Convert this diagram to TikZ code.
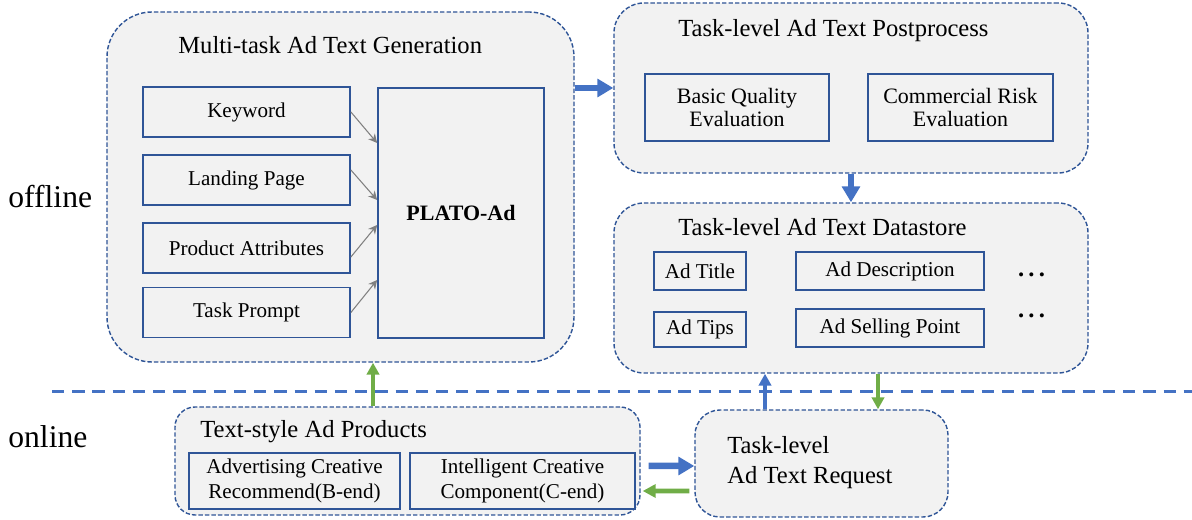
\documentclass[tikz,border=0pt]{standalone}
\usepackage{fontspec}
\setmainfont{Liberation Serif}
\usetikzlibrary{arrows.meta}

\definecolor{boxgray}{HTML}{F2F2F2}
\definecolor{darkblue}{HTML}{2F5597}
\definecolor{arrowblue}{HTML}{4472C4}
\definecolor{arrowgreen}{HTML}{70AD47}

\begin{document}
\begin{tikzpicture}[
		groupbox/.style={draw=darkblue, dash pattern=on 2.5pt off 1.2pt, line width=0.8pt, fill=boxgray},
		itembox/.style={draw=darkblue, line width=1pt, fill=boxgray, font=\fontsize{12}{14}\selectfont, align=center},
		boxtitle/.style={font=\fontsize{14}{17}\selectfont, anchor=west, inner sep=0pt},
		sidelabel/.style={font=\fontsize{18}{20}\selectfont, anchor=west, inner sep=0pt},
		feedarrow/.style={draw=gray, line width=0.6pt, -{Stealth[length=5pt,width=5pt]}},
		bigarrow/.style={draw=arrowblue, line width=3.7pt, -{Triangle[length=9pt,width=10pt]}},
		thinarrow/.style={draw=#1, line width=2.4pt, -{Triangle[length=6.8pt,width=7pt]}}
	]
		
		% Fix the page size
		\useasboundingbox (0,0) rectangle (23.84,10.4);
		
		% The offline / online split
		\draw[arrowblue, line width=1.7pt, dash pattern=on 7pt off 4.5pt] (1.04,2.56) -- (23.84,2.56);
		\node[sidelabel] (offline) at (0.16,6.46) {offline};
		\node[sidelabel] (online) at (0.16,1.66) {online};
		
		% Multi-task generation block
		\node[groupbox, rounded corners=0.9cm, minimum width=9.34cm, minimum height=7cm] (gen) at (6.81,6.66) {};
		\node[boxtitle] (gentitle) at (3.56,9.5) {Multi-task Ad Text Generation};
		\node[itembox, minimum width=4.14cm, minimum height=1cm] (keyword) at (4.93,8.16) {Keyword};
		\node[itembox, minimum width=4.14cm, minimum height=1cm] (landing) at (4.93,6.8) {Landing Page};
		\node[itembox, minimum width=4.14cm, minimum height=1cm] (attr) at (4.93,5.44) {Product Attributes};
		\node[itembox, minimum width=4.14cm, minimum height=1cm] (prompt) at (4.93,4.15) {Task Prompt};
		\node[itembox, minimum width=3.32cm, minimum height=5cm, font=\fontsize{12.5}{15}\selectfont\bfseries] (plato) at (9.22,6.14) {PLATO-Ad};
		
		% Inputs into the model
		\draw[feedarrow] (keyword.east) -- ([yshift=1.4cm]plato.west);
		\draw[feedarrow] ([yshift=0.2cm]landing.east) -- ([yshift=0.26cm]plato.west);
		\draw[feedarrow] ([yshift=-0.18cm]attr.east) -- ([yshift=-0.24cm]plato.west);
		\draw[feedarrow] (prompt.east) -- ([yshift=-1.34cm]plato.west);
		
		% Postprocess block
		\node[groupbox, rounded corners=0.6cm, minimum width=9.48cm, minimum height=3.4cm] (post) at (17.02,8.64) {};
		\node[boxtitle] (posttitle) at (13.56,9.78) {Task-level Ad Text Postprocess};
		\node[itembox, font=\fontsize{12.5}{13.6}\selectfont, minimum width=3.68cm, minimum height=1.34cm] (basic) at (14.74,8.25) {Basic Quality\\ Evaluation};
		\node[itembox, font=\fontsize{12.5}{13.6}\selectfont, minimum width=3.7cm, minimum height=1.34cm] (risk) at (19.21,8.25) {Commercial Risk\\Evaluation};
		
		% Datastore block
		\node[groupbox, rounded corners=0.6cm, minimum width=9.48cm, minimum height=3.4cm] (store) at (17.02,4.64) {};
		\node[boxtitle] (storetitle) at (13.56,5.86) {Task-level Ad Text Datastore};
		\node[itembox, minimum width=1.84cm, minimum height=0.76cm] (title) at (14,4.98) {Ad Title};
		\node[itembox, minimum width=3.76cm, minimum height=0.76cm] (desc) at (17.8,4.98) {Ad Description};
		\node[itembox, minimum width=1.84cm, minimum height=0.7cm] (tips) at (14,3.81) {Ad Tips};
		\node[itembox, minimum width=3.76cm, minimum height=0.76cm] (selling) at (17.8,3.84) {Ad Selling Point};
		\foreach \y/\name in {4.86/moreA, 4.04/moreB}
		\node[font=\fontsize{14}{16}\selectfont\bfseries, anchor=base, inner sep=0pt] (\name) at (20.63,\y) {.\hspace{2.4pt}.\hspace{2.4pt}.};
		
		% Online blocks
		\node[groupbox, rounded corners=0.4cm, minimum width=9.3cm, minimum height=2.16cm] (products) at (8.15,1.18) {};
		\node[boxtitle] (prodtitle) at (4.0,1.76) {Text-style Ad Products};
		\node[itembox, line width=1.3pt, minimum width=4.22cm, minimum height=1.04cm] (bend) at (5.89,0.78) {Advertising Creative\\Recommend(B-end)};
		\node[itembox, line width=1.3pt, minimum width=4.5cm, minimum height=1.04cm] (cend) at (10.45,0.78) {Intelligent Creative\\Component(C-end)};
		\node[groupbox, rounded corners=0.5cm, minimum width=5.06cm, minimum height=2.14cm] (request) at (16.43,1.13) {};
		\node[boxtitle, align=left] (reqtext) at (14.54,1.14) {Task-level\\Ad Text Request};
		
		% Flow between the blocks
		\draw[bigarrow] (gen.east |- post.west) -- (post.west);
		\draw[bigarrow] (post.south) -- (store.north);
		\draw[thinarrow=arrowgreen] ([xshift=-0.69cm]products.north) -- ([xshift=-0.69cm]products.north |- gen.south);
		\draw[thinarrow=arrowblue] ([xshift=-1.13cm]request.north) -- ([xshift=-1.13cm]request.north |- store.south);
		\draw[thinarrow=arrowgreen] ([xshift=1.13cm]request.north |- store.south) -- ([xshift=1.13cm]request.north);
		\draw[bigarrow] ([xshift=0.16cm,yshift=-0.1cm]products.east) -- ([yshift=-0.05cm]request.west);
		\draw[thinarrow=arrowgreen, line width=2.8pt, -{Triangle[length=7.4pt,width=7.4pt]}] ([xshift=-0.1cm,yshift=-0.55cm]request.west) -- ([xshift=0.04cm,yshift=-0.6cm]products.east);
		
	\end{tikzpicture}
\end{document}
